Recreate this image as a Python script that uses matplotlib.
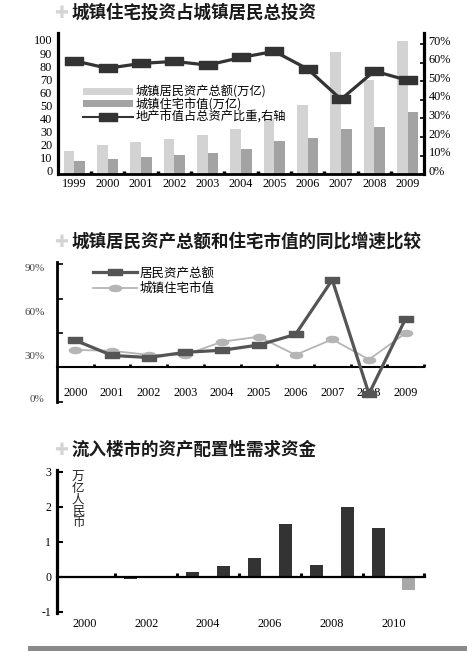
import numpy as np
import matplotlib
matplotlib.use('Agg')
import matplotlib.pyplot as plt
from matplotlib.path import Path
from matplotlib.patches import Patch, Rectangle
from matplotlib.lines import Line2D
import matplotlib.transforms as mtransforms

CJK = ['Noto Sans CJK SC', 'DejaVu Sans']
NUMF = ['Liberation Serif', 'DejaVu Serif']
plt.rcParams['font.family'] = CJK

# ---------------- data ----------------
# Panel 1
years1 = ['1999', '2000', '2001', '2002', '2003', '2004', '2005', '2006', '2007', '2008', '2009']
total_assets = [18.1, 22.2, 24.5, 26.9, 29.9, 34.5, 42.2, 53.2, 93.5, 72.4, 102.0]
housing_value = [10.0, 11.5, 13.3, 14.8, 16.3, 19.7, 25.5, 28.1, 34.8, 36.0, 47.6]
housing_share = [61.0, 57.0, 59.6, 60.7, 58.7, 62.8, 66.1, 56.6, 40.3, 55.5, 50.5]
left_ticks1 = list(range(0, 101, 10))
right_ticks1 = list(range(0, 71, 10))
legend1 = ['城镇居民资产总额(万亿)', '城镇住宅市值(万亿)', '地产市值占总资产比重,右轴']

# Panel 2
years2 = ['2000', '2001', '2002', '2003', '2004', '2005', '2006', '2007', '2008', '2009']
asset_growth = [40.2, 29.8, 28.4, 32.0, 33.4, 37.0, 44.3, 81.8, 3.4, 55.2]
housing_growth = [33.6, 33.0, 30.2, 30.2, 39.3, 42.7, 30.2, 40.9, 27.0, 45.2]
growth_ticks = [0, 30, 60, 90]
growth_axis_cross = 21.6
legend2 = ['居民资产总额', '城镇住宅市值']

# Panel 3
years3 = [2001, 2002, 2003, 2004, 2005, 2006, 2007, 2008, 2009, 2010]
inflow = [-0.075, -0.05, 0.12, 0.30, 0.52, 1.51, 0.33, 1.98, 1.40, -0.38]
inflow_is_estimate = [False] * 9 + [True]
label_years3 = [2000, 2002, 2004, 2006, 2008, 2010]
inflow_ticks = [-1, 0, 1, 2, 3]

titles = ['城镇住宅投资占城镇居民总投资',
          '城镇居民资产总额和住宅市值的同比增速比较',
          '流入楼市的资产配置性需求资金']

# ---------------- figure ----------------
W, H = 476, 652
fig = plt.figure(figsize=(W / 100, H / 100), dpi=100)
fig.patch.set_facecolor('white')


def axes_px(left, top, right, bottom):
    return fig.add_axes([left / W, 1 - bottom / H, (right - left) / W, (bottom - top) / H])


def shift_ticklabels(axis, dy_px):
    off = mtransforms.ScaledTranslation(0, dy_px / 100, fig.dpi_scale_trans)
    for t in axis.get_major_ticks():
        t.label1.set_transform(t.label1.get_transform() + off)
        t.label2.set_transform(t.label2.get_transform() + off)


def title(ypx, text):
    fig.text(61 / W, 1 - ypx / H, '✚', fontsize=12, color='#d4d4d4', ha='center', va='center',
             family=['DejaVu Sans'])
    fig.text(72 / W, 1 - ypx / H, text, fontsize=12.6, fontweight='bold', color='#1a1a1a',
             ha='left', va='center', family=CJK)


rect_marker = Path([(-1, -0.42), (1, -0.42), (1, 0.42), (-1, 0.42), (-1, -0.42)],
                   [Path.MOVETO, Path.LINETO, Path.LINETO, Path.LINETO, Path.CLOSEPOLY])
circ = Path.unit_circle()
ell_marker = Path(circ.vertices * np.array([1.0, 0.5]), circ.codes)

# ---------------- panel 1 ----------------
title(13, titles[0])
ax1 = axes_px(57.7, 33.3, 424.3, 174.3)
x1 = np.arange(len(years1))
bw = 0.32
ax1.bar(x1 - bw / 2, total_assets, width=bw, color='#d3d3d3', zorder=2)
ax1.bar(x1 + bw / 2, housing_value, width=bw, color='#a3a3a3', zorder=2)
ax1.set_xlim(-0.5, len(years1) - 0.5)
ax1.set_ylim(0, 108.2)
ax1.set_yticks(left_ticks1)
ax1.set_yticklabels([str(v) for v in left_ticks1], family=NUMF, fontsize=8.8)
ax1.tick_params(axis='y', length=0, pad=4)
ax1.set_xticks(x1)
ax1.set_xticklabels(years1, family=NUMF, fontsize=8.8)
ax1.set_xticks(x1[:-1] + 0.5, minor=True)
ax1.tick_params(axis='x', which='major', length=0, pad=3)
ax1.tick_params(axis='x', which='minor', length=2.5, width=2.5, direction='in', color='black')
ax1.spines['top'].set_visible(False)
ax1.spines['left'].set_linewidth(2.3)
ax1.spines['right'].set_visible(False)
ax1.spines['bottom'].set_linewidth(2.0)

ax1r = ax1.twinx()
ax1r.plot(x1, housing_share, color='#333333', lw=2.3, marker=rect_marker, markersize=12.5,
          markerfacecolor='#333333', markeredgecolor='#333333', zorder=5)
ax1r.set_ylim(0, 75.8)
ax1r.set_yticks(right_ticks1)
ax1r.set_yticklabels([f'{v}%' for v in right_ticks1], family=NUMF, fontsize=8.8)
ax1r.tick_params(axis='y', length=3, width=1.2, direction='in', pad=3)
for s in ['top', 'left', 'bottom']:
    ax1r.spines[s].set_visible(False)
ax1r.spines['right'].set_linewidth(2.3)
shift_ticklabels(ax1.yaxis, 4)
shift_ticklabels(ax1r.yaxis, 4)

h1 = [Patch(facecolor='#d3d3d3', edgecolor='none'),
      Patch(facecolor='#a3a3a3', edgecolor='none'),
      Line2D([0], [0], color='#333333', lw=1.5, marker=rect_marker, markersize=12.5,
             markerfacecolor='#333333', markeredgecolor='#333333')]
leg1 = ax1r.legend(h1, legend1, loc='upper left', bbox_to_anchor=(0.070, 0.63), frameon=False,
                   handlelength=4.1, handleheight=0.5, handletextpad=0.15,
                   labelspacing=-0.05, borderpad=0, borderaxespad=0,
                   prop={'family': CJK, 'size': 8.8})

# ---------------- panel 2 ----------------
title(241.7, titles[1])
ax2 = axes_px(57, 261.7, 424, 401.7)
x2 = np.arange(len(years2))
ax2.plot(x2, housing_growth, color='#b5b5b5', lw=1.3, marker=ell_marker, markersize=8.8,
         markerfacecolor='#b5b5b5', markeredgecolor='#b5b5b5', zorder=3, label=legend2[1])
ax2.plot(x2, asset_growth, color='#555555', lw=2.3, marker=rect_marker, markersize=9.5,
         markerfacecolor='#555555', markeredgecolor='#555555', zorder=4, label=legend2[0])
ax2.set_xlim(-0.5, len(years2) - 0.5)
ax2.set_ylim(-1.2, 94.3)
ax2.set_yticks(growth_ticks)
ax2.set_yticklabels([f'{v}%' for v in growth_ticks], family=NUMF, fontsize=8, color='#444444')
ax2.tick_params(axis='y', which='major', length=0, pad=9)
step = 23.6
ax2.set_yticks(growth_axis_cross + step * np.arange(-1, 4), minor=True)
ax2.tick_params(axis='y', which='minor', length=4, width=1.2, direction='in')
ax2.spines['bottom'].set_position(('data', growth_axis_cross))
ax2.spines['bottom'].set_linewidth(1.5)
ax2.spines['left'].set_linewidth(2.0)
ax2.spines['top'].set_visible(False)
ax2.spines['right'].set_visible(False)
ax2.set_xticks(x2)
ax2.set_xticklabels(years2, family=NUMF, fontsize=8.8)
ax2.set_xticks(np.arange(len(years2)) + 0.5, minor=True)
ax2.tick_params(axis='x', which='major', length=0, pad=14)
ax2.tick_params(axis='x', which='minor', length=2.5, width=2.0, direction='in')
hh, ll = ax2.get_legend_handles_labels()
ax2.legend(hh[::-1], ll[::-1], loc='upper left', bbox_to_anchor=(0.098, 0.965), frameon=False,
           handlelength=3.5, handletextpad=0.25, labelspacing=0.2, borderpad=0, borderaxespad=0,
           prop={'family': CJK, 'size': 9})

# ---------------- panel 3 ----------------
title(450, titles[2])
ax3 = axes_px(56.7, 470, 425, 612.7)
cols = ['#a8a8a8' if e else '#333333' for e in inflow_is_estimate]
ax3.bar(years3, inflow, width=0.42, color=cols, zorder=2)
ax3.set_xlim(1998.6, 2010.52)
ax3.set_ylim(-1.03, 3.05)
ax3.set_yticks(inflow_ticks)
ax3.set_yticklabels([str(v) for v in inflow_ticks], family=NUMF, fontsize=8.5)
ax3.tick_params(axis='y', length=4, width=1.5, direction='in', pad=4)
ax3.spines['bottom'].set_position(('data', 0))
ax3.spines['bottom'].set_linewidth(1.6)
ax3.spines['left'].set_linewidth(2.3)
ax3.spines['top'].set_visible(False)
ax3.spines['right'].set_visible(False)
ly = np.array(label_years3)
ax3.set_xticks(ly - 0.5)
ax3.set_xticklabels([str(v) for v in label_years3], family=NUMF, fontsize=8.8)
ax3.set_xticks(ly + 0.5, minor=True)
ax3.tick_params(axis='x', which='major', length=0, pad=29.5)
ax3.tick_params(axis='x', which='minor', length=3, width=2.2, direction='in')
fig.text(78 / W, 1 - 471 / H, '\n'.join('万亿人民币'), fontsize=9, linespacing=0.82,
         ha='center', va='top', family=CJK, color='#222222')

# bottom rule
fig.add_artist(Rectangle((28 / W, 1 - 651 / H), 439 / W, 5 / H, transform=fig.transFigure,
                         facecolor='#8a8a8a', edgecolor='none'))

fig.savefig('out.png', dpi=100, facecolor='white')
